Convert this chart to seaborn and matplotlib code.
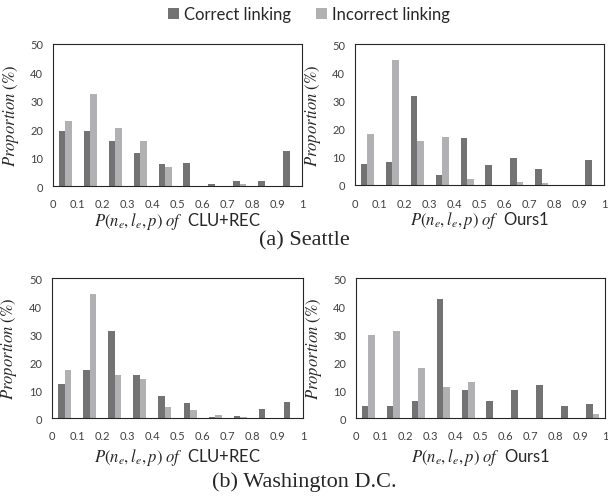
import matplotlib
matplotlib.use("Agg")
import matplotlib.pyplot as plt
import numpy as np
import pandas as pd
import seaborn as sns
from matplotlib.patches import Patch

# bin centres on the [0, 1] probability axis
bins = [0.05, 0.15, 0.25, 0.35, 0.45, 0.55, 0.65, 0.75, 0.85, 0.95]
tick_values = [0, 0.1, 0.2, 0.3, 0.4, 0.5, 0.6, 0.7, 0.8, 0.9, 1.0]
tick_labels = ["0", "0.1", "0.2", "0.3", "0.4", "0.5", "0.6", "0.7", "0.8", "0.9", "1"]
series_names = ["Correct linking", "Incorrect linking"]

seattle_clu_correct = [19.5, 19.5, 15.8, 11.5, 7.7, 8.2, 0.6, 1.9, 1.9, 12.4]
seattle_clu_incorrect = [22.8, 32.3, 20.5, 15.8, 6.6, 0.0, 0.0, 0.6, 0.0, 0.0]
seattle_ours_correct = [7.6, 8.3, 31.6, 3.7, 16.7, 7.0, 9.6, 5.7, 0.0, 8.9]
seattle_ours_incorrect = [18.1, 44.4, 15.5, 16.9, 2.1, 0.0, 1.1, 0.8, 0.0, 0.0]
dc_clu_correct = [12.2, 17.2, 31.0, 15.3, 7.9, 5.3, 0.5, 0.8, 3.2, 5.7]
dc_clu_incorrect = [17.1, 44.4, 15.5, 14.0, 4.1, 3.0, 1.2, 0.4, 0.0, 0.0]
dc_ours_correct = [4.3, 4.3, 5.9, 42.6, 10.0, 5.9, 10.0, 11.8, 4.3, 5.0]
dc_ours_incorrect = [29.6, 31.0, 17.7, 11.2, 13.0, 0.0, 0.0, 0.0, 0.0, 1.5]

method_names = ["CLU+REC", "Ours1", "CLU+REC", "Ours1"]
captions = ["(a) Seattle", "(b) Washington D.C."]

colors = ["#737373", "#B1B1B4"]

sns.set_style("white")
plt.rcParams["font.family"] = ["Lato", "DejaVu Sans"]
plt.rcParams["mathtext.fontset"] = "stix"


def panel_frame(correct, incorrect):
    return pd.DataFrame({
        "bin": bins * 2,
        "value": list(correct) + list(incorrect),
        "series": [series_names[0]] * len(bins) + [series_names[1]] * len(bins),
    })


panels = [
    (seattle_clu_correct, seattle_clu_incorrect),
    (seattle_ours_correct, seattle_ours_incorrect),
    (dc_clu_correct, dc_clu_incorrect),
    (dc_ours_correct, dc_ours_incorrect),
]

W, H = 608, 502
fig = plt.figure(figsize=(W / 100, H / 100), dpi=100)

# axes boxes in pixels: left, top, right, bottom
boxes = [
    (53, 45, 302, 187),
    (355, 45, 604, 186),
    (52, 279, 303, 419),
    (356, 279, 605, 419),
]

for i, ((corr, inc), box) in enumerate(zip(panels, boxes)):
    l, t, r, b = box
    ax = fig.add_axes([l / W, 1 - b / H, (r - l) / W, (b - t) / H])
    df = panel_frame(corr, inc)
    sns.barplot(
        data=df, x="bin", y="value", hue="series", hue_order=series_names,
        native_scale=True, width=0.52, gap=0, palette=colors, saturation=1,
        linewidth=0, legend=False, ax=ax,
    )
    ax.set_xlim(0, 1)
    ax.set_ylim(0, 50)
    ax.set_yticks([0, 10, 20, 30, 40, 50])
    ax.set_xticks(tick_values)
    ax.set_xticklabels(tick_labels)
    ax.tick_params(axis="y", length=0, labelsize=8, colors="#404040", pad=7)
    ax.tick_params(axis="x", length=0, labelsize=8, colors="#404040", pad=9)
    for sp in ax.spines.values():
        sp.set_visible(True)
        sp.set_color("#262626")
        sp.set_linewidth(0.8)
    ax.set_ylabel(r"$Proportion\ (\%)$", fontsize=12, color="#262626")
    ax.yaxis.set_label_coords(-0.13, 0.5)
    ax.set_xlabel(r"$P(n_e,l_e,p)\ of$  " + method_names[i], fontsize=12, color="#262626")
    ax.xaxis.set_label_coords(0.5, -0.17 if i < 2 else -0.2)

fig.text(0.5, 1 - 241 / H, captions[0], ha="center", va="center",
         family="Liberation Serif", fontsize=16)
fig.text(0.5, 1 - 482 / H, captions[1], ha="center", va="center",
         family="Liberation Serif", fontsize=16)

handles = [Patch(facecolor=c, edgecolor="none") for c in colors]
leg = fig.legend(handles, series_names, loc="center", bbox_to_anchor=(309 / W, 1 - 15 / H),
                 ncol=2, frameon=False, fontsize=12, handlelength=0.66, handleheight=0.66,
                 handletextpad=0.3, columnspacing=1.5)
for txt in leg.get_texts():
    txt.set_color("#262626")

fig.savefig("out.png", dpi=100)
plt.close(fig)
